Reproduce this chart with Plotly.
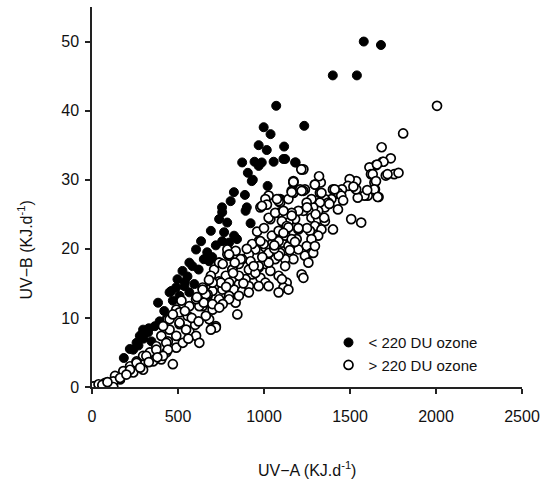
import plotly.graph_objects as go

# < 220 DU ozone (filled)
low_x = [1400, 1540, 1580, 1680, 1071, 1234, 998, 1038, 969, 1016, 1117, 873, 945, 987, 1056, 1123,
         1184, 906, 929, 1021, 825, 889, 806, 756, 900, 969, 935, 893, 757, 739, 786, 922, 691, 768,
         826, 843, 797, 757, 634, 605, 670, 699, 566, 584, 681, 526, 555, 497, 489, 461, 537, 595,
         384, 451, 509, 566, 393, 432, 365, 297, 278, 259, 240, 326, 346, 220, 185, 1113, 1181,
         420, 470, 540, 620, 650, 720, 300, 330, 270]
low_y = [45.1, 45.1, 50.0, 49.5, 40.7, 37.8, 37.6, 36.6, 35.0, 34.3, 34.8, 32.5, 32.6, 32.5, 32.6, 33.0,
         32.5, 31.0, 29.8, 29.1, 28.2, 27.8, 26.9, 26.0, 26.0, 32.0, 30.0, 25.5, 25.3, 24.3, 23.8, 23.7, 22.6, 22.4,
         21.9, 21.4, 20.9, 21.1, 21.1, 19.9, 19.5, 18.8, 18.0, 17.5, 18.2, 16.8, 16.0, 15.6, 14.4, 13.9, 14.6, 14.9,
         12.2, 13.7, 13.2, 13.7, 9.5, 9.8, 8.8, 8.3, 7.4, 6.4, 5.4, 7.9, 6.6, 5.5, 4.2, 33.0, 32.5,
         11.0, 12.5, 15.2, 17.0, 18.5, 20.5, 7.0, 8.5, 6.0]

# > 220 DU ozone (open)
high_x = [2006, 1809, 1684, 1737, 1689, 1651, 1613, 1622, 1708, 1757, 1782, 1642, 1645, 1666, 1603,
          1695, 1657, 1632, 1718, 1651, 1641, 1661, 1584, 1545, 1536, 1536, 1498, 1488, 1453, 1430,
          1449, 1401, 1421, 1430, 1392, 1354, 1325, 1296, 1330, 1373, 1354, 1325, 1315, 1286, 1276,
          1248, 1258, 1229, 1276, 1315, 1354, 1296, 1267, 1334, 1315, 1276, 1248, 1276, 1238, 1200,
          1190, 1200, 1181, 1200, 1161, 1142, 1123, 1104, 1142, 1171, 1123, 1094, 1219, 1401, 1507,
          1565, 1238, 1171, 1171, 1229, 1219, 1094, 1320,
          1085, 1094, 979, 1085, 1037, 1104, 1132, 1094, 1123, 1085, 1046, 1008, 969, 998, 950, 912,
          873, 922, 854, 816, 1027, 1065, 1008, 969, 1037, 1085, 1132, 1113, 979, 1008, 931, 893,
          854, 826, 873, 912, 778, 739, 758, 797, 835, 845, 681, 662, 701, 643, 681, 701, 797, 739,
          710, 1027, 1229, 1258, 1286, 1296,
          787, 739, 691, 643, 672, 931, 979, 1046, 1085, 1027, 1065, 1113, 1161, 1142, 1113, 1161,
          1085, 1008, 988, 787, 835, 864, 816, 749, 797, 854, 912, 969, 1027, 1027, 1085, 1123, 1104,
          1142, 1085, 1027, 969, 912, 854, 797, 739, 701,
          672, 624, 662, 720, 556, 509, 566, 605, 451, 403, 441, 490, 432, 374, 336, 297, 259, 355,
          403, 221, 182, 240, 297, 163, 105, 48, 10, 134, 470, 528, 624, 490, 440,
          10, 38, 77, 124, 163, 124, 1229, 1171, 1210, 1161, 1075, 1017, 988, 1142, 1217, 1171, 1161,
          1219, 1296, 1334, 1411,
          797, 701, 662, 701, 720, 691, 509, 547, 490, 432, 374, 316, 259, 221, 413, 451, 509, 566,
          605, 643, 441, 413, 60, 90, 200, 280, 330, 380, 560, 600, 760, 950, 1060, 1180, 1250, 1350,
          520, 580, 620, 650, 700, 740, 780, 820, 880, 940, 990, 470, 540, 610, 680, 760, 830, 900,
          960, 1000, 1060, 1150, 1200, 1250, 1300, 1380, 1460, 1520, 1600]
high_y = [40.7, 36.7, 34.7, 33.1, 32.6, 32.1, 31.8, 30.8, 30.6, 30.8, 31.0, 29.6, 28.6, 27.5, 27.7,
          32.6, 32.2, 30.8, 30.8, 29.8, 28.6, 27.5, 27.7, 27.4, 28.6, 29.8, 30.1, 29.1, 28.6, 28.1,
          27.7, 28.6, 26.7, 25.7, 27.2, 27.2, 28.1, 29.3, 29.6, 26.7, 26.0, 26.7, 25.5, 26.0, 27.2,
          26.7, 25.5, 25.5, 24.5, 24.3, 24.0, 23.3, 22.6, 22.8, 21.9, 21.4, 20.4, 19.4, 19.0, 19.9,
          21.4, 22.8, 24.3, 25.5, 25.2, 23.8, 22.3, 20.9, 20.4, 18.5, 18.5, 19.4, 16.3, 22.8, 24.3,
          23.8, 28.6, 29.6, 28.1, 28.4, 31.5, 27.2, 30.5,
          27.2, 26.7, 26.0, 25.2, 24.3, 24.0, 23.3, 22.6, 21.9, 21.1, 20.7, 20.2, 21.1, 20.7, 19.9, 19.2,
          18.5, 18.2, 17.8, 17.0, 19.0, 18.5, 17.8, 17.3, 16.8, 16.1, 15.1, 14.4, 15.8, 15.1, 16.3, 15.6,
          14.9, 14.1, 13.9, 14.6, 16.1, 15.3, 14.1, 13.2, 12.2, 10.5, 14.1, 13.2, 11.7, 11.7, 9.8, 8.6, 19.0, 18.0,
          17.0, 27.7, 15.8, 18.0, 19.4, 20.4,
          19.2, 18.0, 16.1, 14.4, 13.2, 20.7, 21.1, 21.9, 22.6, 24.5, 25.2, 25.5, 24.8, 23.1, 22.3, 21.4,
          26.9, 27.2, 26.2, 19.9, 19.7, 18.5, 17.0, 15.1, 15.1, 16.1, 17.0, 17.5, 18.0, 19.4, 19.0, 17.5, 15.6,
          14.1, 13.7, 14.6, 14.6, 13.7, 13.2, 12.7, 12.7, 13.9,
          13.4, 11.7, 10.3, 8.8, 10.3, 9.1, 8.1, 7.4, 8.3, 7.4, 6.6, 5.7, 5.0, 5.9, 5.0, 4.5, 3.7, 3.7,
          4.0, 3.0, 2.3, 2.1, 2.5, 1.1, 0.6, 0.1, 0.0, 1.6, 3.3, 6.4, 6.4, 11.2, 9.8,
          0.1, 0.4, 0.6, 0.8, 1.3, 0.0, 31.5, 29.8, 28.6, 28.4, 27.2, 26.4, 26.2, 27.2, 31.5, 29.7, 28.2,
          28.4, 29.3, 28.1, 28.6,
          19.2, 15.1, 13.4, 11.2, 8.6, 8.3, 9.3, 8.3, 7.4, 6.4, 5.4, 4.5, 3.5, 2.5, 8.8, 9.8, 10.8, 11.7,
          12.7, 14.1, 5.4, 4.5, 0.3, 0.7, 1.8, 2.8, 3.6, 4.3, 7.0, 9.0, 12.0, 16.5, 20.0, 21.0, 23.0, 24.5,
          12.5, 10.0, 9.5, 12.2, 12.0, 11.5, 14.5, 16.5, 15.0, 17.5, 18.8, 10.5, 11.0, 13.0, 15.5, 17.8,
          18.0, 20.0, 22.5, 23.0, 20.5, 19.8, 23.0, 26.0, 25.0, 26.5, 27.0, 29.0, 28.5]

x_ticks = [0, 500, 1000, 1500, 2000, 2500]
y_ticks = [0, 10, 20, 30, 40, 50]

font_family = "Liberation Sans, Arial, sans-serif"

fig = go.Figure()
fig.add_trace(go.Scatter(
    x=low_x, y=low_y, mode="markers", name="< 220 DU ozone",
    marker=dict(size=9, color="black", line=dict(color="black", width=1)),
))
fig.add_trace(go.Scatter(
    x=high_x, y=high_y, mode="markers", name="> 220 DU ozone",
    marker=dict(size=9, color="white", line=dict(color="black", width=1.7)),
))

fig.update_layout(
    width=547, height=485,
    margin=dict(l=92, r=21, t=7, b=98),
    paper_bgcolor="white", plot_bgcolor="white",
    font=dict(family=font_family, size=15, color="#111"),
    showlegend=True,
    legend=dict(x=0.55, y=0.16, xanchor="left", yanchor="top",
                bgcolor="rgba(0,0,0,0)", font=dict(size=15, color="#111"),
                itemwidth=30, tracegroupgap=4),
    xaxis=dict(range=[0, 2500], tickvals=x_ticks, showgrid=False, zeroline=False,
               showline=True, linecolor="#222", linewidth=1.5, ticks="outside",
               ticklen=5, tickwidth=1.5, tickcolor="#222", ticklabelstandoff=9,
               tickfont=dict(size=16, color="#111")),
    yaxis=dict(range=[0, 55], tickvals=y_ticks, showgrid=False, zeroline=False,
               showline=True, linecolor="#222", linewidth=1.5, ticks="outside",
               ticklen=5, tickwidth=1.5, tickcolor="#222", ticklabelstandoff=3,
               tickfont=dict(size=16, color="#111")),
    annotations=[
        dict(text="UV−A (KJ.d<sup>-1</sup>)", x=0.5, y=-0.215, xref="paper", yref="paper",
             xanchor="center", yanchor="middle", showarrow=False, font=dict(size=16, color="#111")),
        dict(text="UV−B (KJ.d<sup>-1</sup>)", x=-0.155, y=0.36, xref="paper", yref="paper",
             xanchor="center", yanchor="middle", textangle=-90, showarrow=False,
             font=dict(size=16, color="#111")),
    ],
)

fig.write_html("out.html")
